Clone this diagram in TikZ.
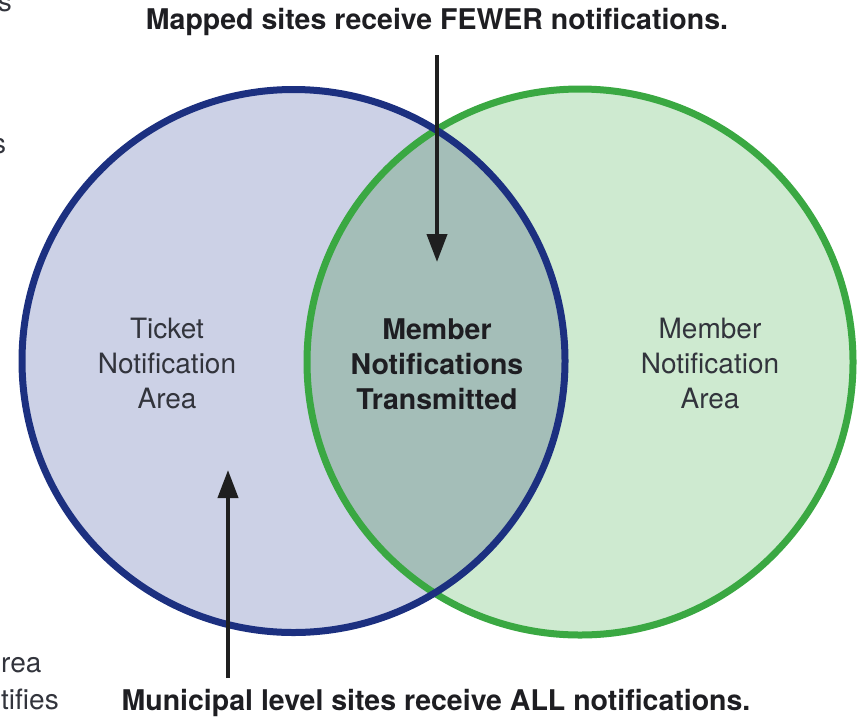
\documentclass[tikz,border=0pt]{standalone}
\usepackage{fontspec}
\setmainfont{TeX Gyre Heros}
\usetikzlibrary{arrows.meta}
\definecolor{bluestroke}{RGB}{28,48,128}
\definecolor{bluefill}{RGB}{204,209,230}
\definecolor{greenstroke}{RGB}{58,168,66}
\definecolor{greenfill}{RGB}{206,234,208}
\definecolor{midfill}{RGB}{164,190,184}
\definecolor{txt}{RGB}{50,52,60}
\definecolor{boldtxt}{RGB}{30,30,34}
\begin{document}
\begin{tikzpicture}[x=1pt,y=-1pt,
  lbl/.style={font=\fontsize{28}{35}\selectfont, text=txt, align=center, inner sep=0pt},
  blbl/.style={font=\fontsize{28.5}{35}\selectfont\bfseries, text=boldtxt, align=center, inner sep=0pt},
  frag/.style={font=\fontsize{28}{35}\selectfont, text=txt, inner sep=0pt},
  pointer/.style={line width=4pt, draw=black!88, -{Triangle[length=28pt,width=20pt]}}]
\useasboundingbox (0,0) rectangle (858,718);
\begin{scope}
\clip (0,0) rectangle (858,718);
% fills
\fill[bluefill] (293.5,361) circle[radius=271.5];
\fill[greenfill] (580,362) circle[radius=273];
\begin{scope}
  \clip (293.5,361) circle[radius=271.5];
  \fill[midfill] (580,362) circle[radius=273];
\end{scope}
% strokes
\draw[greenstroke, line width=7pt] (580,362) circle[radius=273];
\draw[bluestroke, line width=7pt] (293.5,361) circle[radius=271.5];
% fragments at left edge
\node[frag, anchor=base west] (f1) at (-18,11) {os};
\node[frag, anchor=base west] (f2) at (-8,153) {s};
\node[frag, anchor=base west] (f3) at (1,672) {rea};
\node[frag, anchor=base west] (f4) at (1,709) {tifies};
\end{scope}
% labels
\node[lbl] (ticket) at (167,363) {Ticket\\Notification\\Area};
\node[blbl] (transm) at (437,364) {Member\\Notifications\\Transmitted};
\node[lbl] (member) at (710,363) {Member\\Notification\\Area};
% captions
\node[blbl] (fewer) at (437,22) {Mapped sites receive FEWER notifications.};
\node[blbl] (all) at (436,703) {Municipal level sites receive ALL notifications.};
% arrows
\coordinate (topstart) at (437,55);
\coordinate (toptip) at (437,262);
\coordinate (botstart) at (228,678);
\coordinate (bottip) at (228,470);
\draw[pointer] (topstart) -- (toptip);
\draw[pointer] (botstart) -- (bottip);
\end{tikzpicture}
\end{document}
